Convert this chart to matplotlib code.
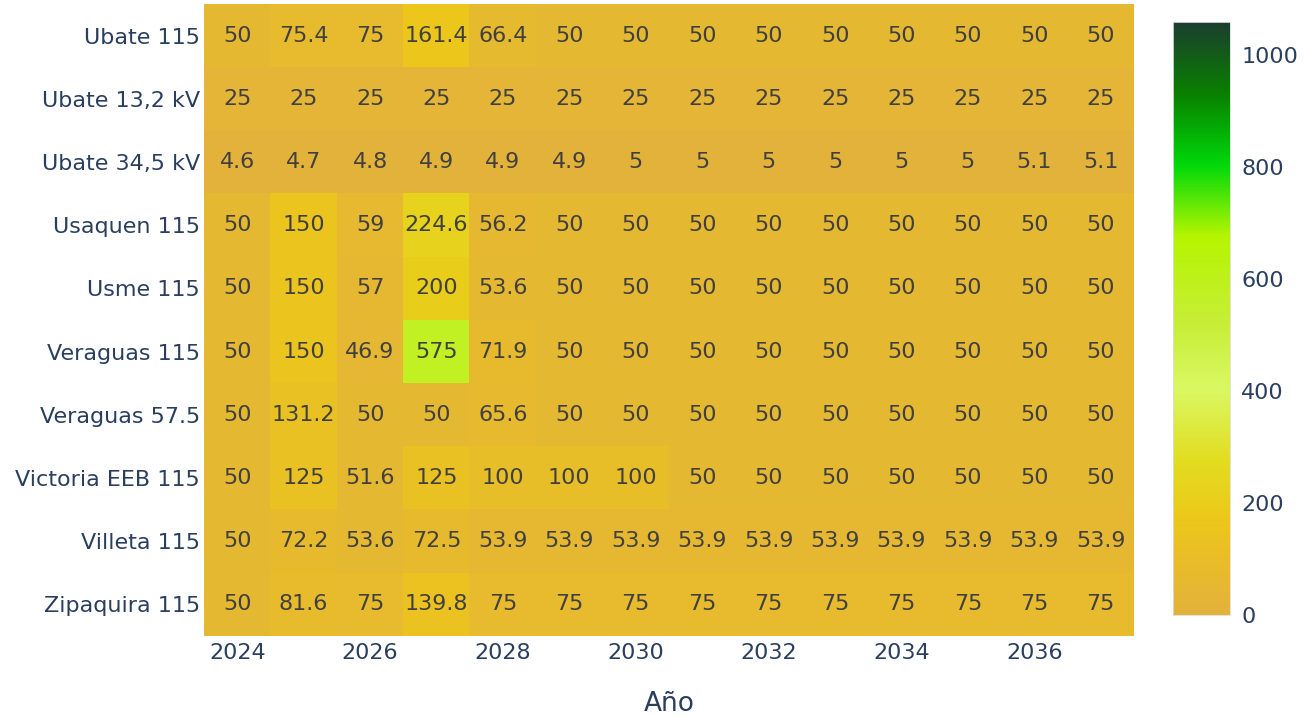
import numpy as np
import matplotlib
matplotlib.use("Agg")
import matplotlib.pyplot as plt
from matplotlib.colors import LinearSegmentedColormap, Normalize

years = list(range(2024, 2038))
substations = ["Ubate 115", "Ubate 13,2 kV", "Ubate 34,5 kV", "Usaquen 115", "Usme 115",
               "Veraguas 115", "Veraguas 57.5", "Victoria EEB 115", "Villeta 115", "Zipaquira 115"]

ubate_115 = [50, 75.4, 75, 161.4, 66.4, 50, 50, 50, 50, 50, 50, 50, 50, 50]
ubate_13_2 = [25] * 14
ubate_34_5 = [4.6, 4.7, 4.8, 4.9, 4.9, 4.9, 5, 5, 5, 5, 5, 5, 5.1, 5.1]
usaquen_115 = [50, 150, 59, 224.6, 56.2, 50, 50, 50, 50, 50, 50, 50, 50, 50]
usme_115 = [50, 150, 57, 200, 53.6, 50, 50, 50, 50, 50, 50, 50, 50, 50]
veraguas_115 = [50, 150, 46.9, 575, 71.9, 50, 50, 50, 50, 50, 50, 50, 50, 50]
veraguas_57_5 = [50, 131.2, 50, 50, 65.6, 50, 50, 50, 50, 50, 50, 50, 50, 50]
victoria_115 = [50, 125, 51.6, 125, 100, 100, 100, 50, 50, 50, 50, 50, 50, 50]
villeta_115 = [50, 72.2, 53.6, 72.5, 53.9, 53.9, 53.9, 53.9, 53.9, 53.9, 53.9, 53.9, 53.9, 53.9]
zipaquira_115 = [50, 81.6, 75, 139.8, 75, 75, 75, 75, 75, 75, 75, 75, 75, 75]

values = np.array([ubate_115, ubate_13_2, ubate_34_5, usaquen_115, usme_115,
                   veraguas_115, veraguas_57_5, victoria_115, villeta_115, zipaquira_115])

zmin, zmax = 0, 1058
cmap = LinearSegmentedColormap.from_list("custom", [
    (0.0, "#E3B23C"),
    (0.16, "#EDC71A"),
    (0.26, "#E2DD20"),
    (0.38, "#DAF863"),
    (0.49, "#C8EE38"),
    (0.64, "#B5F500"),
    (0.76, "#00D90B"),
    (0.88, "#0A8000"),
    (1.0, "#1B3F2F"),
])
norm = Normalize(zmin, zmax)

FS = 16
fig = plt.figure(figsize=(13.06, 7.17), dpi=100)
ax = fig.add_axes([204/1306, 1-636/717, (1134-204)/1306, (636-4)/717])
nrows, ncols = values.shape
ax.imshow(values, cmap=cmap, norm=norm, aspect="auto", interpolation="nearest",
          extent=(-0.5, ncols-0.5, nrows-0.5, -0.5))
for i in range(nrows):
    for j in range(ncols):
        v = values[i, j]
        s = f"{v:g}"
        ax.text(j, i, s, ha="center", va="center", fontsize=FS, color="#404040",
                family="DejaVu Sans")

ax.set_xlim(-0.5, ncols-0.5)
ax.set_ylim(nrows-0.5, -0.5)
ax.set_yticks(range(nrows))
ax.set_yticklabels(substations)
xt = [k for k, y in enumerate(years) if y % 2 == 0]
ax.set_xticks(xt)
ax.set_xticklabels([str(years[k]) for k in xt])
ax.tick_params(axis="both", length=0, labelsize=FS, labelcolor="#2a3f5f")
ax.tick_params(axis="y", pad=3)
ax.tick_params(axis="x", pad=5)
for sp in ax.spines.values():
    sp.set_visible(False)
ax.set_xlabel("Año", fontsize=19, color="#2a3f5f", labelpad=20)

cax = fig.add_axes([1173/1306, 1-615/717, (1230-1173)/1306, (615-22)/717])
grad = np.linspace(zmin, zmax, 512).reshape(-1, 1)
cax.imshow(grad, cmap=cmap, norm=norm, aspect="auto", origin="lower",
           extent=(0, 1, zmin, zmax))
cax.set_xticks([])
cax.yaxis.tick_right()
cax.set_yticks([0, 200, 400, 600, 800, 1000])
cax.tick_params(axis="y", length=0, labelsize=FS, labelcolor="#2a3f5f", pad=8)
for sp in cax.spines.values():
    sp.set_edgecolor("#dddddd")
    sp.set_linewidth(0.6)

fig.savefig("out.png", dpi=100)
